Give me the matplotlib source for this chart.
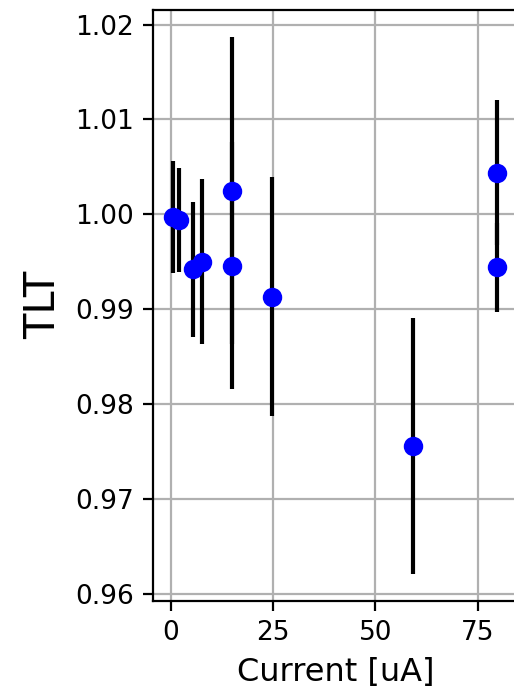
import numpy as np
import matplotlib
matplotlib.use("Agg")
import matplotlib.pyplot as plt

# ================================
# DATA
# ================================
current = [0.6, 2.1, 5.4, 7.7, 14.9, 14.9, 24.7, 59.1, 79.7, 79.7]
tlt = [0.9997, 0.9994, 0.9942, 0.9950, 1.0025, 0.9946, 0.9913, 0.9756, 1.0044, 0.9944]
tlt_err = [0.0059, 0.0055, 0.0071, 0.0087, 0.0162, 0.0130, 0.0126, 0.0135, 0.0076, 0.0047]

# ================================
# FIGURE
# ================================
dpi = 200
fig = plt.figure(figsize=(514 / dpi, 690 / dpi), dpi=dpi)

# axes end just past the right edge of the picture (cropped panel)
ax = fig.add_axes([0.2983, 0.1294, 0.711, 0.8561])

ax.errorbar(
    current, tlt, yerr=tlt_err,
    fmt="o", color="blue", ecolor="black",
)

ax.set_xlim(-4.2, 85)
ax.set_xticks([0, 25, 50, 75])
ax.set_yticks([0.96, 0.97, 0.98, 0.99, 1.00, 1.01, 1.02])
ax.set_yticklabels(["0.96", "0.97", "0.98", "0.99", "1.00", "1.01", "1.02"])

ax.set_xlabel("Current [uA]", fontsize=11.5)
ax.set_ylabel("TLT", fontsize=15)
ax.tick_params(labelsize=9.5)
ax.grid(True)

fig.savefig("out.png", dpi=dpi)
